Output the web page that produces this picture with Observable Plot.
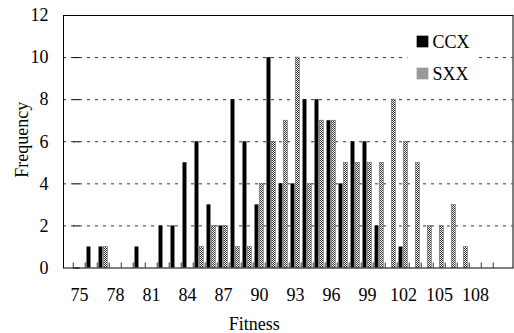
<!DOCTYPE html>
<html>
<head>
<meta charset="utf-8">
<script src="https://cdn.jsdelivr.net/npm/d3@7"></script>
<script src="https://cdn.jsdelivr.net/npm/@observablehq/plot@0.6"></script>
<style>
  html, body { margin: 0; padding: 0; background: #fff; }
  svg { display: block; }
</style>
</head>
<body>
<div id="chart"></div>
<script>
const fitness = [75,76,77,78,79,80,81,82,83,84,85,86,87,88,89,90,91,92,93,94,95,96,97,98,99,100,101,102,103,104,105,106,107,108,109,110];
const ccx     = [ 0, 1, 1, 0, 0, 1, 0, 2, 2, 5, 6, 3, 2, 8, 6, 3,10, 4, 4, 8, 8, 7, 4, 6, 6, 2, 0, 1, 0, 0, 0, 0, 0, 0, 0, 0];
const sxx     = [ 0, 0, 1, 0, 0, 0, 0, 0, 0, 0, 1, 2, 2, 1, 1, 4, 6, 7,10, 4, 7, 7, 5, 5, 5, 5, 8, 6, 5, 2, 2, 3, 1, 0, 0, 0];
const yTicks = [0, 2, 4, 6, 8, 10, 12];
const xTickLabels = [75, 78, 81, 84, 87, 90, 93, 96, 99, 102, 105, 108];
const seriesNames = ["CCX", "SXX"];
const xTitle = "Fitness";
const yTitle = "Frequency";

const data = fitness.map((f, i) => ({fitness: f, ccx: ccx[i], sxx: sxx[i]}));
const font = "'Liberation Serif', 'Times New Roman', serif";
const step = (514.5 - 63.5) / fitness.length;
const fs = 18;

const chart = Plot.plot({
  width: 514,
  height: 333,
  marginLeft: 63,
  marginRight: 1.5,
  marginTop: 15,
  marginBottom: 65.5,
  style: {fontFamily: font, fontSize: fs + "px", color: "black", background: "white"},
  x: {type: "band", domain: fitness, range: [63.5, 514.5], padding: 0},
  y: {domain: [0, 12], range: [267.5, 15]},
  marks: [
    Plot.ruleY(yTicks.filter(v => v > 0 && v < 12), {y: d => d, stroke: "#333", strokeDasharray: "3,5"}),
    Plot.barY(data, {x: "fitness", y: "ccx", fill: "black", insetLeft: 1.5, insetRight: step - 6}),
    Plot.barY(data, {x: "fitness", y: "sxx", fill: "url(#sxxPat)", stroke: "#666", strokeWidth: 0.6, insetLeft: 6.3, insetRight: step - 10.8}),
    Plot.ruleX(fitness, {x: d => d, y1: 0, y2: 0.24, dx: -step / 2, stroke: "#333"}),
    Plot.tickY(yTicks, {y: d => d, x: () => fitness[0], insetRight: step - 7, stroke: "black"}),
    Plot.frame({stroke: "black"}),
    Plot.axisY({ticks: yTicks, tickSize: 0, tickPadding: 15, label: null, fontSize: fs}),
    Plot.axisX({ticks: xTickLabels, tickSize: 0, tickPadding: 20, label: null, fontSize: fs}),
    Plot.text([xTitle], {text: d => d, frameAnchor: "bottom", textAnchor: "middle", dx: -34, dy: 56, lineAnchor: "middle", fontSize: fs}),
    Plot.text([yTitle], {text: d => d, frameAnchor: "left", textAnchor: "middle", dx: -41.5, dy: -2, rotate: -90, lineAnchor: "middle", fontSize: fs}),
    // legend
    Plot.dot([0], {frameAnchor: "top-right", dx: -70.5, dy: 42, symbol: "square", r: 39.5, fill: "white", stroke: "none"}),
    Plot.dot([seriesNames[0]], {frameAnchor: "top-right", dx: -90.5, dy: 26, symbol: "square", r: 6.6, fill: "black", stroke: "none"}),
    Plot.dot([seriesNames[1]], {frameAnchor: "top-right", dx: -90.5, dy: 58, symbol: "square", r: 6.6, fill: "url(#sxxPat)", stroke: "none"}),
    Plot.text([seriesNames[0]], {text: d => d, frameAnchor: "top-right", dx: -80.5, dy: 27, textAnchor: "start", lineAnchor: "middle", fontSize: fs}),
    Plot.text([seriesNames[1]], {text: d => d, frameAnchor: "top-right", dx: -80.5, dy: 59, textAnchor: "start", lineAnchor: "middle", fontSize: fs})
  ]
});

const svg = d3.select(chart);
const defs = svg.insert("defs", ":first-child");
const pat = defs.append("pattern")
  .attr("id", "sxxPat")
  .attr("patternUnits", "userSpaceOnUse")
  .attr("width", 2).attr("height", 2);
pat.append("rect").attr("width", 2).attr("height", 2).attr("fill", "#ffffff");
pat.append("rect").attr("x", 0).attr("y", 0).attr("width", 1).attr("height", 1).attr("fill", "#333333");
pat.append("rect").attr("x", 1).attr("y", 1).attr("width", 1).attr("height", 1).attr("fill", "#333333");

document.getElementById("chart").appendChild(chart);
</script>
</body>
</html>
